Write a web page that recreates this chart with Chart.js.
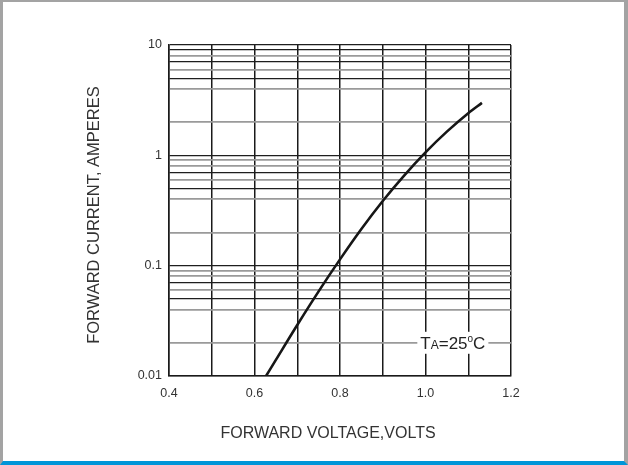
<!DOCTYPE html>
<html>
<head>
<meta charset="utf-8">
<script src="https://cdn.jsdelivr.net/npm/chart.js@4"></script>
<style>
    html, body { margin: 0; padding: 0; background: #fff; }
    #frame {
        position: absolute; left: 0; top: 0; width: 628px; height: 465px;
        box-sizing: border-box;
        border-left: 3px solid #a3a3a3;
        border-top: 2px solid #a3a3a3;
        border-right: 4px solid #a3a3a3;
        border-bottom: 4px solid #0095d8;
    }
    #wrap { position: absolute; left: 0; top: 0; width: 628px; height: 465px; }
</style>
</head>
<body>
<div id="frame"></div>
<div id="wrap"><canvas id="chart" width="628" height="465"></canvas></div>
<script>
// forward voltage (V) vs forward current (A)
const voltage = [0.627, 0.65, 0.70, 0.75, 0.80, 0.85, 0.90, 0.95, 1.00, 1.05, 1.10, 1.132];
const current = [0.01, 0.014, 0.029, 0.0585, 0.114, 0.215, 0.386, 0.656, 1.064, 1.64, 2.41, 2.99];

// grid lines on the log axis (no line at the 3s)
const yGrid = [0.01, 0.02, 0.04, 0.05, 0.06, 0.07, 0.08, 0.09,
               0.1, 0.2, 0.4, 0.5, 0.6, 0.7, 0.8, 0.9,
               1, 2, 4, 5, 6, 7, 8, 9, 10];
const yLabels = { 0.01: '0.01', 0.1: '0.1', 1: '1', 10: '10' };
const darkGrid = [0.01, 0.05, 0.07, 0.1, 0.5, 0.7, 1, 5, 7, 9, 10];

const xTitle = 'FORWARD VOLTAGE,VOLTS';
const yTitle = 'FORWARD CURRENT, AMPERES';

// note position in data units
const noteX = 1.064;
const noteY = 0.02;

function isDark(v) {
    return darkGrid.some(d => Math.abs(d - v) / d < 1e-6);
}

const annotationPlugin = {
    id: 'notes',
    afterDraw(chart) {
        const ctx = chart.ctx;
        const xs = chart.scales.x;
        const ys = chart.scales.y;
        const cx = xs.getPixelForValue(noteX);
        const cy = ys.getPixelForValue(noteY);

        // temperature note with a white box over the grid
        const big = '17px "Liberation Sans", Arial, sans-serif';
        const small = '12px "Liberation Sans", Arial, sans-serif';
        const sup = '10px "Liberation Sans", Arial, sans-serif';
        const parts = [
            { t: 'T', f: big, dy: 0 },
            { t: 'A', f: small, dy: 0 },
            { t: '=25', f: big, dy: 0 },
            { t: 'o', f: sup, dy: -7 },
            { t: 'C', f: big, dy: 0 }
        ];
        let w = 0;
        parts.forEach(p => { ctx.font = p.f; p.w = ctx.measureText(p.t).width; w += p.w; });
        ctx.save();
        ctx.fillStyle = '#fff';
        ctx.fillRect(cx - w / 2 - 3, cy - 11, w + 6, 22);
        ctx.fillStyle = '#222';
        ctx.textBaseline = 'alphabetic';
        ctx.textAlign = 'left';
        let x = cx - w / 2;
        parts.forEach(p => {
            ctx.font = p.f;
            ctx.fillText(p.t, x, cy + 6.5 + p.dy);
            x += p.w;
        });

        // axis titles
        ctx.fillStyle = '#333';
        ctx.font = '16px "Liberation Sans", Arial, sans-serif';
        ctx.textAlign = 'center';
        ctx.textBaseline = 'middle';
        ctx.fillText(xTitle, 328, 434);
        ctx.translate(94, 215);
        ctx.rotate(-Math.PI / 2);
        ctx.font = '16.5px "Liberation Sans", Arial, sans-serif';
        ctx.fillText(yTitle, 0, 0);
        ctx.restore();
    }
};

new Chart(document.getElementById('chart'), {
    type: 'line',
    data: {
        datasets: [{
            data: voltage.map((v, i) => ({ x: v, y: current[i] })),
            borderColor: '#161616',
            borderWidth: 2.6,
            pointRadius: 0,
            cubicInterpolationMode: 'monotone',
            fill: false
        }]
    },
    options: {
        responsive: false,
        animation: false,
        devicePixelRatio: 1,
        layout: {
            padding: { left: 0, right: 117, top: 45, bottom: 0 }
        },
        plugins: {
            legend: { display: false },
            tooltip: { enabled: false }
        },
        scales: {
            x: {
                type: 'linear',
                min: 0.4,
                max: 1.2,
                afterFit(scale) { scale.height = 89; },
                ticks: {
                    stepSize: 0.1,
                    padding: 10,
                    color: '#333',
                    font: { family: '"Liberation Sans", Arial, sans-serif', size: 12.5 },
                    maxRotation: 0,
                    autoSkip: false,
                    callback(value) {
                        const k = Math.round(value * 10);
                        return k % 2 === 0 ? (k / 10).toFixed(1) : '';
                    }
                },
                grid: {
                    color: '#1a1a1a',
                    lineWidth: 1.5,
                    drawTicks: false
                },
                border: { color: '#1a1a1a', width: 1.5 }
            },
            y: {
                type: 'logarithmic',
                min: 0.01,
                max: 10,
                afterFit(scale) { scale.width = 169; },
                afterBuildTicks(scale) {
                    scale.ticks = yGrid.map(v => ({ value: v }));
                },
                ticks: {
                    padding: 7,
                    color: '#333',
                    autoSkip: false,
                    font: { family: '"Liberation Sans", Arial, sans-serif', size: 12.5 },
                    callback(value) {
                        for (const k in yLabels) {
                            if (Math.abs(parseFloat(k) - value) / value < 1e-6) return yLabels[k];
                        }
                        return '';
                    }
                },
                grid: {
                    drawTicks: false,
                    color: ctx => isDark(ctx.tick.value) ? '#1e1e1e' : '#9a9a9a',
                    lineWidth: ctx => isDark(ctx.tick.value) ? 1.2 : 1.8
                },
                border: { color: '#1a1a1a', width: 1.5 }
            }
        }
    },
    plugins: [annotationPlugin]
});
</script>
</body>
</html>
